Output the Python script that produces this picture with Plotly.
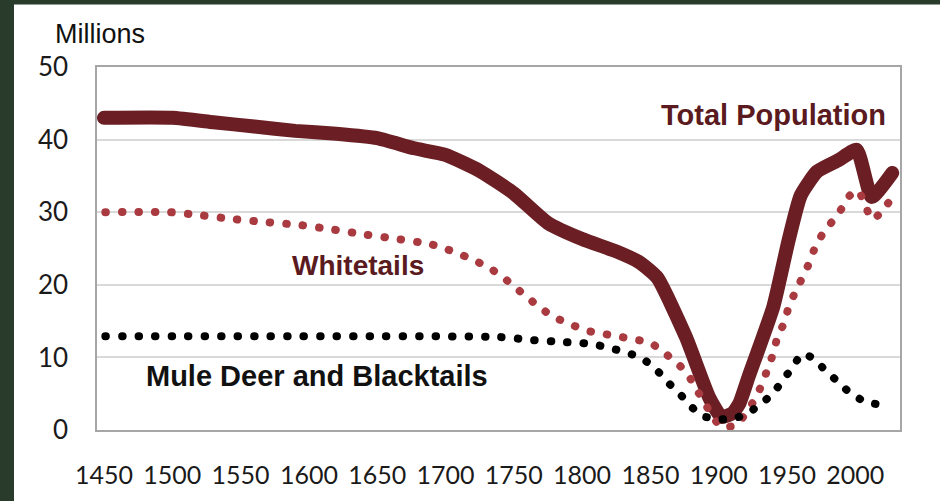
import plotly.graph_objects as go

# ---- data ----
total_years = [1450, 1500, 1530, 1560, 1590, 1620, 1650, 1677, 1700, 1725, 1750, 1775, 1800,
               1825, 1842, 1855, 1876, 1893, 1902, 1910, 1915, 1922, 1940, 1951, 1960, 1972,
               1988, 2001, 2012, 2027]
total_vals = [43.0, 43.0, 42.4, 41.8, 41.2, 40.8, 40.2, 38.8, 37.9, 35.7, 32.6, 28.5, 26.3,
              24.6, 23.1, 21.0, 12.8, 4.5, 1.8, 2.3, 3.6, 7.4, 17.0, 26.0, 32.3, 35.6,
              37.2, 38.6, 32.1, 35.4]

white_years = [1451, 1498, 1520, 1547, 1571, 1595, 1618, 1642, 1665, 1689, 1701, 1712, 1723,
               1734, 1743, 1752, 1761, 1771, 1780, 1791, 1803, 1814, 1826, 1838, 1850, 1859,
               1869, 1877, 1883, 1889, 1895, 1902, 1913, 1927, 1932, 1936, 1940, 1943, 1948,
               1951, 1956, 1961, 1966, 1970, 1976, 1983, 1990, 1996, 2002, 2007, 2012, 2018, 2025]
white_vals = [30.0, 30.0, 29.6, 29.0, 28.6, 28.2, 27.6, 26.9, 26.3, 25.6, 24.9, 24.1, 23.2,
              22.1, 20.9, 19.5, 18.1, 16.6, 15.5, 14.6, 13.7, 13.3, 12.9, 12.5, 12.0, 10.8,
              9.3, 7.8, 5.8, 4.0, 2.0, 0.4, 0.7, 4.4, 6.5, 8.5, 10.6, 12.8, 14.8,
              16.8, 19.0, 20.9, 22.9, 24.9, 27.0, 28.7, 30.5, 32.3, 33.0, 31.1, 29.0, 29.8, 31.5]

mule_years = [1451, 1740, 1763, 1787, 1799, 1811, 1822, 1834, 1845, 1854, 1862, 1870, 1878,
              1887, 1899, 1910, 1921, 1931, 1940, 1947, 1954, 1961, 1970, 1978, 1987, 1995,
              2006, 2017]
mule_vals = [12.9, 12.8, 12.4, 12.1, 12.0, 11.7, 11.2, 10.6, 9.7, 8.4, 6.7, 5.3, 3.6,
             2.0, 1.5, 1.5, 2.3, 3.6, 5.1, 6.9, 8.6, 10.5, 9.8, 8.2, 6.7, 5.3,
             4.0, 3.5]

x_ticks = [1450, 1500, 1550, 1600, 1650, 1700, 1750, 1800, 1850, 1900, 1950, 2000]
y_ticks = [0, 10, 20, 30, 40, 50]

# ---- layout geometry ----
W, H = 940, 501
ML, MR, MT, MB = 97, 40, 67, 63
PW, PH = W - ML - MR, H - MT - MB

def px_x(px):
    return (px - ML) / PW

def px_y(py):
    return (H - MB - py) / PH

TOTAL_C = "#6B1F24"
WHITE_C = "#A83A40"
LABEL_C = "#5A1A20"
FRAME_C = "#293B2B"

fig = go.Figure()
fig.add_trace(go.Scatter(x=total_years, y=total_vals, mode="lines",
                         line=dict(color=TOTAL_C, width=14, shape="spline", smoothing=0.5),
                         name="Total Population", hoverinfo="skip"))
fig.add_trace(go.Scatter(x=white_years, y=white_vals, mode="lines",
                         line=dict(color=WHITE_C, width=8, dash="0.5px,16px",
                                   shape="spline", smoothing=0.5),
                         name="Whitetails", hoverinfo="skip"))
fig.add_trace(go.Scatter(x=mule_years, y=mule_vals, mode="lines",
                         line=dict(color="#000000", width=8, dash="0.5px,16px",
                                   shape="spline", smoothing=0.5),
                         name="Mule Deer and Blacktails", hoverinfo="skip"))

fig.update_layout(
    width=W, height=H,
    margin=dict(l=ML, r=MR, t=MT, b=MB, pad=0),
    paper_bgcolor="white",
    plot_bgcolor="white",
    showlegend=False,
    shapes=[
        dict(type="rect", xref="paper", yref="paper", layer="below",
             x0=px_x(-20), x1=px_x(14), y0=px_y(H + 20), y1=px_y(-20),
             fillcolor=FRAME_C, line=dict(width=0)),
        dict(type="rect", xref="paper", yref="paper", layer="below",
             x0=px_x(-20), x1=px_x(W + 20), y0=px_y(3), y1=px_y(-20),
             fillcolor=FRAME_C, line=dict(width=0)),
    ],
    annotations=[
        dict(text="Total Population", x=1940, y=43.4, xref="x", yref="y", showarrow=False,
             xanchor="center", yanchor="middle",
             font=dict(family="Liberation Sans", size=29, color=LABEL_C, weight="bold")),
        dict(text="Whitetails", x=1636, y=22.6, xref="x", yref="y", showarrow=False,
             xanchor="center", yanchor="middle",
             font=dict(family="Liberation Sans", size=28, color=LABEL_C, weight="bold")),
        dict(text="Mule Deer and Blacktails", x=1606, y=7.4, xref="x", yref="y", showarrow=False,
             xanchor="center", yanchor="middle",
             font=dict(family="Liberation Sans", size=29, color="#111111", weight="bold")),
        dict(text="Millions", x=px_x(53), y=px_y(33), xref="paper", yref="paper",
             showarrow=False, xanchor="left", yanchor="middle",
             font=dict(family="Liberation Sans", size=27, color="#111111")),
    ],
    xaxis=dict(range=[1444.9, 2032.7], tickmode="array", tickvals=x_ticks,
               ticktext=[str(v) for v in x_ticks], showgrid=False, zeroline=False,
               showline=True, linecolor="#A6A6A6", linewidth=1.5, mirror=True,
               ticks="", ticklabelstandoff=22,
               tickfont=dict(family="Lato", size=25, color="#1A1A1A")),
    yaxis=dict(range=[0, 50], tickmode="array", tickvals=y_ticks,
               showgrid=True, gridcolor="#D9D9D9", gridwidth=1.5, zeroline=False,
               showline=True, linecolor="#A6A6A6", linewidth=1.5, mirror=True,
               ticks="", ticklabelstandoff=22,
               tickfont=dict(family="Lato", size=26, color="#1A1A1A")),
)

post = """
document.documentElement.style.margin = '0';
document.documentElement.style.background = 'white';
document.documentElement.style.overflow = 'hidden';
document.body.style.margin = '0';
document.body.style.background = 'white';
document.body.style.overflow = 'hidden';
var gd = document.getElementById('{plot_id}');
function fixCaps(){
  gd.querySelectorAll('.scatterlayer .js-line').forEach(function(p){
    p.style.strokeLinecap = 'round';
    p.style.strokeLinejoin = 'round';
  });
}
fixCaps();
gd.on('plotly_afterplot', fixCaps);
"""

fig.write_html("out.html", post_script=post, config={"displayModeBar": False})
